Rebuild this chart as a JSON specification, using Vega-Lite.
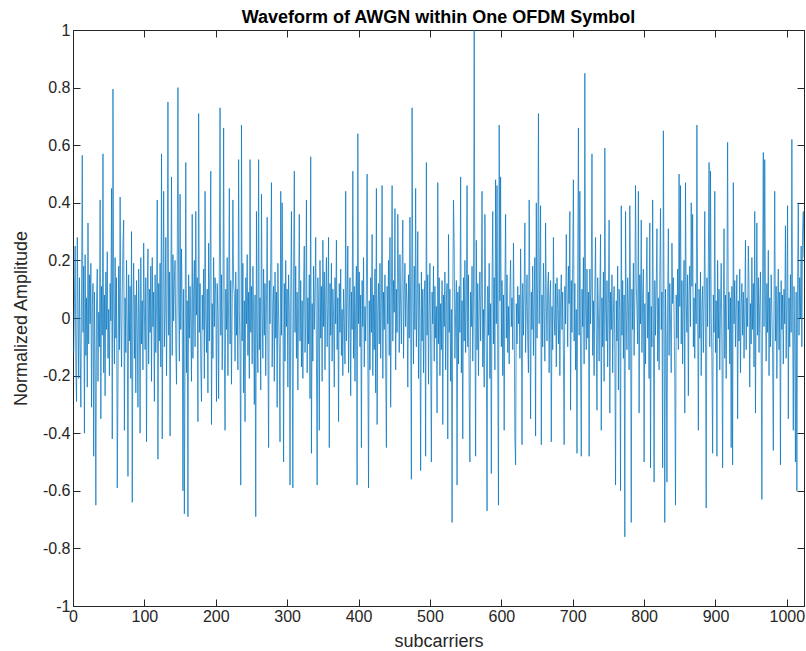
{
"$schema": "https://vega.github.io/schema/vega-lite/v6.json",
"width": 731,
"height": 576,
"autosize": {"type": "none"},
"padding": {"left": 73, "top": 30, "right": 2, "bottom": 45},
"background": "white",
"title": {"text": "Waveform of AWGN within One OFDM Symbol", "anchor": "middle", "offset": -5},
"data": {"values": [
{"i":1,"v":-0.12},{"i":2,"v":0.05},{"i":3,"v":0.25},{"i":4,"v":-0.18},{"i":5,"v":-0.29},{"i":6,"v":0.28},{"i":7,"v":0.02},{"i":8,"v":-0.21},{"i":9,"v":0.14},{"i":10,"v":-0.08},
{"i":11,"v":-0.31},{"i":12,"v":0.10},{"i":13,"v":0.565},{"i":14,"v":-0.05},{"i":15,"v":0.18},{"i":16,"v":-0.40},{"i":17,"v":0.22},{"i":18,"v":-0.13},{"i":19,"v":0.07},{"i":20,"v":-0.24},
{"i":21,"v":0.33},{"i":22,"v":-0.09},{"i":23,"v":0.15},{"i":24,"v":-0.02},{"i":25,"v":0.19},{"i":26,"v":-0.31},{"i":27,"v":0.04},{"i":28,"v":0.12},{"i":29,"v":-0.48},{"i":30,"v":0.09},
{"i":31,"v":-0.15},{"i":32,"v":-0.65},{"i":33,"v":0.06},{"i":34,"v":0.17},{"i":35,"v":-0.22},{"i":36,"v":0.02},{"i":37,"v":-0.10},{"i":38,"v":0.41},{"i":39,"v":-0.35},{"i":40,"v":0.11},
{"i":41,"v":-0.06},{"i":42,"v":0.57},{"i":43,"v":-0.19},{"i":44,"v":0.08},{"i":45,"v":-0.27},{"i":46,"v":0.16},{"i":47,"v":-0.04},{"i":48,"v":0.23},{"i":49,"v":-0.14},{"i":50,"v":0.03},
{"i":51,"v":-0.20},{"i":52,"v":0.12},{"i":53,"v":-0.01},{"i":54,"v":0.45},{"i":55,"v":-0.42},{"i":56,"v":0.795},{"i":57,"v":0.05},{"i":58,"v":-0.16},{"i":59,"v":0.21},{"i":60,"v":-0.07},
{"i":61,"v":0.14},{"i":62,"v":-0.59},{"i":63,"v":-0.24},{"i":64,"v":0.18},{"i":65,"v":-0.11},{"i":66,"v":0.42},{"i":67,"v":0.00},{"i":68,"v":-0.17},{"i":69,"v":0.09},{"i":70,"v":0.26},
{"i":71,"v":0.34},{"i":72,"v":-0.39},{"i":73,"v":0.07},{"i":74,"v":-0.12},{"i":75,"v":0.20},{"i":76,"v":-0.02},{"i":77,"v":-0.55},{"i":78,"v":0.15},{"i":79,"v":-0.08},{"i":80,"v":0.11},
{"i":81,"v":-0.21},{"i":82,"v":0.30},{"i":83,"v":-0.64},{"i":84,"v":0.04},{"i":85,"v":0.19},{"i":86,"v":-0.14},{"i":87,"v":0.08},{"i":88,"v":-0.26},{"i":89,"v":0.13},{"i":90,"v":-0.03},
{"i":91,"v":-0.31},{"i":92,"v":0.17},{"i":93,"v":0.01},{"i":94,"v":-0.40},{"i":95,"v":0.21},{"i":96,"v":-0.09},{"i":97,"v":0.06},{"i":98,"v":-0.18},{"i":99,"v":0.26},{"i":100,"v":0.02},
{"i":101,"v":-0.11},{"i":102,"v":0.14},{"i":103,"v":-0.43},{"i":104,"v":0.07},{"i":105,"v":0.24},{"i":106,"v":-0.16},{"i":107,"v":0.10},{"i":108,"v":-0.05},{"i":109,"v":0.18},{"i":110,"v":-0.22},
{"i":111,"v":0.21},{"i":112,"v":-0.03},{"i":113,"v":0.09},{"i":114,"v":-0.29},{"i":115,"v":0.15},{"i":116,"v":-0.12},{"i":117,"v":0.04},{"i":118,"v":0.41},{"i":119,"v":-0.49},{"i":120,"v":0.12},
{"i":121,"v":-0.08},{"i":122,"v":0.19},{"i":123,"v":-0.17},{"i":124,"v":0.57},{"i":125,"v":-0.42},{"i":126,"v":0.06},{"i":127,"v":0.44},{"i":128,"v":-0.10},{"i":129,"v":0.02},{"i":130,"v":0.28},
{"i":131,"v":-0.20},{"i":132,"v":0.11},{"i":133,"v":0.75},{"i":134,"v":-0.06},{"i":135,"v":0.16},{"i":136,"v":-0.41},{"i":137,"v":0.08},{"i":138,"v":0.49},{"i":139,"v":-0.13},{"i":140,"v":0.22},
{"i":141,"v":-0.01},{"i":142,"v":0.13},{"i":143,"v":0.20},{"i":144,"v":-0.09},{"i":145,"v":-0.23},{"i":146,"v":0.18},{"i":147,"v":0.80},{"i":148,"v":0.07},{"i":149,"v":-0.15},{"i":150,"v":0.43},
{"i":151,"v":-0.04},{"i":152,"v":0.24},{"i":153,"v":0.03},{"i":154,"v":-0.60},{"i":155,"v":0.10},{"i":156,"v":-0.68},{"i":157,"v":-0.12},{"i":158,"v":0.54},{"i":159,"v":-0.19},{"i":160,"v":0.06},
{"i":161,"v":-0.69},{"i":162,"v":0.15},{"i":163,"v":-0.07},{"i":164,"v":0.11},{"i":165,"v":-0.02},{"i":166,"v":-0.22},{"i":167,"v":0.36},{"i":168,"v":-0.14},{"i":169,"v":0.09},{"i":170,"v":0.20},
{"i":171,"v":-0.10},{"i":172,"v":0.37},{"i":173,"v":0.01},{"i":174,"v":0.14},{"i":175,"v":-0.36},{"i":176,"v":0.71},{"i":177,"v":-0.05},{"i":178,"v":0.12},{"i":179,"v":-0.17},{"i":180,"v":-0.29},
{"i":181,"v":0.08},{"i":182,"v":-0.04},{"i":183,"v":0.17},{"i":184,"v":-0.21},{"i":185,"v":0.44},{"i":186,"v":0.00},{"i":187,"v":-0.12},{"i":188,"v":0.10},{"i":189,"v":-0.26},{"i":190,"v":0.26},
{"i":191,"v":-0.08},{"i":192,"v":0.16},{"i":193,"v":0.51},{"i":194,"v":-0.37},{"i":195,"v":0.05},{"i":196,"v":-0.14},{"i":197,"v":0.21},{"i":198,"v":-0.03},{"i":199,"v":0.14},{"i":200,"v":0.09},
{"i":201,"v":-0.29},{"i":202,"v":0.12},{"i":203,"v":0.02},{"i":204,"v":-0.28},{"i":205,"v":0.18},{"i":206,"v":0.73},{"i":207,"v":-0.06},{"i":208,"v":0.15},{"i":209,"v":-0.18},{"i":210,"v":0.04},
{"i":211,"v":0.66},{"i":212,"v":-0.12},{"i":213,"v":-0.39},{"i":214,"v":0.10},{"i":215,"v":-0.04},{"i":216,"v":0.21},{"i":217,"v":-0.20},{"i":218,"v":0.07},{"i":219,"v":0.45},{"i":220,"v":-0.09},
{"i":221,"v":0.13},{"i":222,"v":-0.23},{"i":223,"v":0.05},{"i":224,"v":0.41},{"i":225,"v":0.12},{"i":226,"v":0.08},{"i":227,"v":-0.15},{"i":228,"v":0.16},{"i":229,"v":-0.06},{"i":230,"v":0.10},
{"i":231,"v":-0.18},{"i":232,"v":0.55},{"i":233,"v":0.03},{"i":234,"v":-0.11},{"i":235,"v":-0.58},{"i":236,"v":0.67},{"i":237,"v":-0.08},{"i":238,"v":0.19},{"i":239,"v":-0.26},{"i":240,"v":0.06},
{"i":241,"v":-0.36},{"i":242,"v":0.14},{"i":243,"v":-0.02},{"i":244,"v":0.22},{"i":245,"v":-0.13},{"i":246,"v":0.09},{"i":247,"v":-0.21},{"i":248,"v":0.55},{"i":249,"v":-0.05},{"i":250,"v":0.11},
{"i":251,"v":-0.16},{"i":252,"v":0.18},{"i":253,"v":0.01},{"i":254,"v":-0.30},{"i":255,"v":0.08},{"i":256,"v":-0.69},{"i":257,"v":0.37},{"i":258,"v":-0.04},{"i":259,"v":-0.19},{"i":260,"v":0.55},
{"i":261,"v":-0.11},{"i":262,"v":0.07},{"i":263,"v":-0.25},{"i":264,"v":0.43},{"i":265,"v":0.02},{"i":266,"v":-0.14},{"i":267,"v":0.17},{"i":268,"v":-0.06},{"i":269,"v":0.12},{"i":270,"v":-0.20},
{"i":271,"v":0.05},{"i":272,"v":0.35},{"i":273,"v":-0.09},{"i":274,"v":-0.45},{"i":275,"v":0.13},{"i":276,"v":-0.02},{"i":277,"v":0.20},{"i":278,"v":0.47},{"i":279,"v":-0.17},{"i":280,"v":0.04},
{"i":281,"v":0.11},{"i":282,"v":-0.22},{"i":283,"v":0.16},{"i":284,"v":-0.07},{"i":285,"v":0.09},{"i":286,"v":-0.31},{"i":287,"v":0.19},{"i":288,"v":0.01},{"i":289,"v":-0.12},{"i":290,"v":-0.43},
{"i":291,"v":0.44},{"i":292,"v":-0.06},{"i":293,"v":0.40},{"i":294,"v":0.08},{"i":295,"v":-0.50},{"i":296,"v":0.12},{"i":297,"v":-0.15},{"i":298,"v":0.20},{"i":299,"v":-0.03},{"i":300,"v":0.10},
{"i":301,"v":-0.24},{"i":302,"v":0.15},{"i":303,"v":0.03},{"i":304,"v":-0.58},{"i":305,"v":0.07},{"i":306,"v":0.37},{"i":307,"v":-0.10},{"i":308,"v":-0.59},{"i":309,"v":0.14},{"i":310,"v":0.51},
{"i":311,"v":-0.05},{"i":312,"v":0.18},{"i":313,"v":-0.14},{"i":314,"v":0.09},{"i":315,"v":-0.25},{"i":316,"v":0.04},{"i":317,"v":0.36},{"i":318,"v":-0.08},{"i":319,"v":0.13},{"i":320,"v":-0.17},
{"i":321,"v":0.06},{"i":322,"v":-0.21},{"i":323,"v":0.11},{"i":324,"v":0.25},{"i":325,"v":-0.12},{"i":326,"v":-0.02},{"i":327,"v":0.41},{"i":328,"v":-0.19},{"i":329,"v":0.07},{"i":330,"v":-0.09},
{"i":331,"v":0.15},{"i":332,"v":-0.28},{"i":333,"v":0.56},{"i":334,"v":-0.47},{"i":335,"v":0.05},{"i":336,"v":-0.15},{"i":337,"v":0.18},{"i":338,"v":-0.04},{"i":339,"v":0.09},{"i":340,"v":0.28},
{"i":341,"v":-0.13},{"i":342,"v":-0.58},{"i":343,"v":0.14},{"i":344,"v":0.02},{"i":345,"v":-0.39},{"i":346,"v":0.20},{"i":347,"v":-0.07},{"i":348,"v":0.11},{"i":349,"v":-0.22},{"i":350,"v":0.27},
{"i":351,"v":-0.03},{"i":352,"v":0.16},{"i":353,"v":-0.18},{"i":354,"v":0.08},{"i":355,"v":0.21},{"i":356,"v":-0.10},{"i":357,"v":0.04},{"i":358,"v":0.28},{"i":359,"v":-0.45},{"i":360,"v":0.12},
{"i":361,"v":-0.06},{"i":362,"v":0.19},{"i":363,"v":-0.15},{"i":364,"v":0.10},{"i":365,"v":0.01},{"i":366,"v":-0.24},{"i":367,"v":0.14},{"i":368,"v":-0.02},{"i":369,"v":0.27},{"i":370,"v":-0.11},
{"i":371,"v":0.07},{"i":372,"v":-0.36},{"i":373,"v":0.12},{"i":374,"v":-0.05},{"i":375,"v":0.17},{"i":376,"v":-0.13},{"i":377,"v":0.03},{"i":378,"v":-0.20},{"i":379,"v":0.10},{"i":380,"v":-0.01},
{"i":381,"v":-0.16},{"i":382,"v":0.44},{"i":383,"v":-0.08},{"i":384,"v":0.06},{"i":385,"v":0.25},{"i":386,"v":-0.19},{"i":387,"v":0.02},{"i":388,"v":0.14},{"i":389,"v":-0.27},{"i":390,"v":0.09},
{"i":391,"v":-0.04},{"i":392,"v":0.51},{"i":393,"v":-0.14},{"i":394,"v":0.11},{"i":395,"v":-0.22},{"i":396,"v":0.05},{"i":397,"v":0.18},{"i":398,"v":-0.58},{"i":399,"v":0.64},{"i":400,"v":-0.02},
{"i":401,"v":0.16},{"i":402,"v":-0.10},{"i":403,"v":0.08},{"i":404,"v":-0.45},{"i":405,"v":0.13},{"i":406,"v":-0.03},{"i":407,"v":0.21},{"i":408,"v":-0.17},{"i":409,"v":0.04},{"i":410,"v":-0.08},
{"i":411,"v":0.10},{"i":412,"v":0.50},{"i":413,"v":-0.12},{"i":414,"v":-0.59},{"i":415,"v":0.06},{"i":416,"v":-0.18},{"i":417,"v":0.14},{"i":418,"v":-0.05},{"i":419,"v":0.29},{"i":420,"v":-0.20},
{"i":421,"v":0.08},{"i":422,"v":-0.11},{"i":423,"v":0.17},{"i":424,"v":-0.26},{"i":425,"v":0.45},{"i":426,"v":-0.37},{"i":427,"v":0.03},{"i":428,"v":0.12},{"i":429,"v":-0.09},{"i":430,"v":0.19},
{"i":431,"v":-0.14},{"i":432,"v":0.05},{"i":433,"v":0.46},{"i":434,"v":-0.21},{"i":435,"v":0.09},{"i":436,"v":-0.04},{"i":437,"v":0.15},{"i":438,"v":-0.16},{"i":439,"v":-0.45},{"i":440,"v":0.11},
{"i":441,"v":-0.02},{"i":442,"v":0.20},{"i":443,"v":-0.13},{"i":444,"v":0.28},{"i":445,"v":-0.31},{"i":446,"v":0.07},{"i":447,"v":0.46},{"i":448,"v":-0.08},{"i":449,"v":0.13},{"i":450,"v":0.02},
{"i":451,"v":0.38},{"i":452,"v":-0.18},{"i":453,"v":0.10},{"i":454,"v":-0.05},{"i":455,"v":0.36},{"i":456,"v":0.14},{"i":457,"v":-0.12},{"i":458,"v":0.22},{"i":459,"v":0.04},{"i":460,"v":-0.09},
{"i":461,"v":0.17},{"i":462,"v":0.34},{"i":463,"v":-0.14},{"i":464,"v":0.08},{"i":465,"v":0.19},{"i":466,"v":-0.03},{"i":467,"v":0.12},{"i":468,"v":0.05},{"i":469,"v":-0.24},{"i":470,"v":0.15},
{"i":471,"v":-0.07},{"i":472,"v":0.35},{"i":473,"v":0.01},{"i":474,"v":-0.56},{"i":475,"v":0.73},{"i":476,"v":0.09},{"i":477,"v":-0.16},{"i":478,"v":0.18},{"i":479,"v":-0.04},{"i":480,"v":0.45},
{"i":481,"v":-0.10},{"i":482,"v":0.06},{"i":483,"v":0.30},{"i":484,"v":-0.21},{"i":485,"v":0.12},{"i":486,"v":-0.01},{"i":487,"v":-0.53},{"i":488,"v":0.16},{"i":489,"v":-0.08},{"i":490,"v":0.10},
{"i":491,"v":-0.19},{"i":492,"v":0.07},{"i":493,"v":0.13},{"i":494,"v":-0.48},{"i":495,"v":0.54},{"i":496,"v":-0.06},{"i":497,"v":0.15},{"i":498,"v":-0.23},{"i":499,"v":0.03},{"i":500,"v":0.19},
{"i":501,"v":-0.12},{"i":502,"v":-0.50},{"i":503,"v":0.09},{"i":504,"v":-0.02},{"i":505,"v":0.18},{"i":506,"v":-0.15},{"i":507,"v":0.11},{"i":508,"v":-0.07},{"i":509,"v":0.04},{"i":510,"v":-0.33},
{"i":511,"v":0.47},{"i":512,"v":-0.09},{"i":513,"v":0.14},{"i":514,"v":-0.20},{"i":515,"v":0.05},{"i":516,"v":-0.11},{"i":517,"v":0.13},{"i":518,"v":-0.37},{"i":519,"v":0.08},{"i":520,"v":-0.03},
{"i":521,"v":0.16},{"i":522,"v":-0.18},{"i":523,"v":0.06},{"i":524,"v":0.12},{"i":525,"v":-0.42},{"i":526,"v":0.29},{"i":527,"v":-0.05},{"i":528,"v":0.10},{"i":529,"v":-0.22},{"i":530,"v":0.03},
{"i":531,"v":-0.71},{"i":532,"v":0.07},{"i":533,"v":0.41},{"i":534,"v":0.25},{"i":535,"v":-0.14},{"i":536,"v":0.02},{"i":537,"v":0.13},{"i":538,"v":-0.58},{"i":539,"v":0.09},{"i":540,"v":-0.16},
{"i":541,"v":0.11},{"i":542,"v":-0.05},{"i":543,"v":0.49},{"i":544,"v":-0.19},{"i":545,"v":0.06},{"i":546,"v":-0.42},{"i":547,"v":0.14},{"i":548,"v":-0.08},{"i":549,"v":0.20},{"i":550,"v":-0.12},
{"i":551,"v":0.04},{"i":552,"v":0.46},{"i":553,"v":-0.10},{"i":554,"v":0.15},{"i":555,"v":-0.26},{"i":556,"v":-0.50},{"i":557,"v":0.09},{"i":558,"v":-0.03},{"i":559,"v":0.18},{"i":560,"v":-0.15},
{"i":561,"v":0.07},{"i":562,"v":1.0},{"i":563,"v":0.02},{"i":564,"v":-0.48},{"i":565,"v":0.27},{"i":566,"v":-0.11},{"i":567,"v":0.12},{"i":568,"v":-0.20},{"i":569,"v":0.05},{"i":570,"v":0.16},
{"i":571,"v":-0.08},{"i":572,"v":0.10},{"i":573,"v":0.44},{"i":574,"v":-0.17},{"i":575,"v":0.03},{"i":576,"v":-0.24},{"i":577,"v":0.36},{"i":578,"v":0.08},{"i":579,"v":-0.13},{"i":580,"v":-0.67},
{"i":581,"v":0.11},{"i":582,"v":-0.06},{"i":583,"v":0.19},{"i":584,"v":-0.21},{"i":585,"v":0.05},{"i":586,"v":-0.54},{"i":587,"v":0.12},{"i":588,"v":0.37},{"i":589,"v":-0.09},{"i":590,"v":0.14},
{"i":591,"v":-0.18},{"i":592,"v":0.48},{"i":593,"v":-0.02},{"i":594,"v":0.46},{"i":595,"v":-0.15},{"i":596,"v":-0.65},{"i":597,"v":0.67},{"i":598,"v":0.06},{"i":599,"v":0.49},{"i":600,"v":-0.10},
{"i":601,"v":0.13},{"i":602,"v":-0.20},{"i":603,"v":0.08},{"i":604,"v":-0.39},{"i":605,"v":0.10},{"i":606,"v":0.36},{"i":607,"v":-0.07},{"i":608,"v":0.15},{"i":609,"v":-0.12},{"i":610,"v":0.04},
{"i":611,"v":-0.16},{"i":612,"v":0.09},{"i":613,"v":0.20},{"i":614,"v":-0.03},{"i":615,"v":0.07},{"i":616,"v":-0.11},{"i":617,"v":0.26},{"i":618,"v":0.02},{"i":619,"v":-0.41},{"i":620,"v":-0.51},
{"i":621,"v":0.05},{"i":622,"v":-0.09},{"i":623,"v":0.11},{"i":624,"v":-0.02},{"i":625,"v":0.08},{"i":626,"v":-0.14},{"i":627,"v":0.24},{"i":628,"v":0.03},{"i":629,"v":-0.44},{"i":630,"v":0.12},
{"i":631,"v":-0.06},{"i":632,"v":0.10},{"i":633,"v":0.33},{"i":634,"v":-0.12},{"i":635,"v":0.04},{"i":636,"v":0.15},{"i":637,"v":-0.08},{"i":638,"v":-0.19},{"i":639,"v":0.41},{"i":640,"v":0.06},
{"i":641,"v":-0.35},{"i":642,"v":0.09},{"i":643,"v":-0.04},{"i":644,"v":0.18},{"i":645,"v":-0.13},{"i":646,"v":0.07},{"i":647,"v":0.21},{"i":648,"v":-0.41},{"i":649,"v":0.40},{"i":650,"v":-0.07},
{"i":651,"v":0.12},{"i":652,"v":0.71},{"i":653,"v":-0.02},{"i":654,"v":0.16},{"i":655,"v":0.39},{"i":656,"v":-0.44},{"i":657,"v":0.08},{"i":658,"v":-0.10},{"i":659,"v":0.19},{"i":660,"v":0.02},
{"i":661,"v":-0.15},{"i":662,"v":0.33},{"i":663,"v":0.05},{"i":664,"v":-0.08},{"i":665,"v":0.11},{"i":666,"v":0.16},{"i":667,"v":-0.19},{"i":668,"v":0.07},{"i":669,"v":0.13},{"i":670,"v":-0.43},
{"i":671,"v":0.04},{"i":672,"v":-0.11},{"i":673,"v":0.28},{"i":674,"v":0.01},{"i":675,"v":-0.06},{"i":676,"v":0.12},{"i":677,"v":-0.17},{"i":678,"v":0.14},{"i":679,"v":0.03},{"i":680,"v":-0.09},
{"i":681,"v":0.10},{"i":682,"v":-0.20},{"i":683,"v":0.06},{"i":684,"v":0.15},{"i":685,"v":-0.04},{"i":686,"v":0.09},{"i":687,"v":-0.13},{"i":688,"v":-0.44},{"i":689,"v":0.11},{"i":690,"v":-0.02},
{"i":691,"v":0.29},{"i":692,"v":0.07},{"i":693,"v":-0.10},{"i":694,"v":0.18},{"i":695,"v":0.05},{"i":696,"v":0.37},{"i":697,"v":-0.32},{"i":698,"v":0.13},{"i":699,"v":-0.05},{"i":700,"v":0.20},
{"i":701,"v":0.48},{"i":702,"v":-0.08},{"i":703,"v":0.12},{"i":704,"v":-0.18},{"i":705,"v":0.03},{"i":706,"v":-0.47},{"i":707,"v":0.15},{"i":708,"v":0.66},{"i":709,"v":-0.06},{"i":710,"v":0.44},
{"i":711,"v":-0.14},{"i":712,"v":-0.48},{"i":713,"v":0.10},{"i":714,"v":-0.03},{"i":715,"v":0.21},{"i":716,"v":-0.16},{"i":717,"v":0.85},{"i":718,"v":0.04},{"i":719,"v":-0.11},{"i":720,"v":0.17},
{"i":721,"v":-0.07},{"i":722,"v":0.09},{"i":723,"v":-0.48},{"i":724,"v":0.17},{"i":725,"v":-0.02},{"i":726,"v":0.12},{"i":727,"v":0.57},{"i":728,"v":-0.13},{"i":729,"v":0.06},{"i":730,"v":-0.20},
{"i":731,"v":0.10},{"i":732,"v":0.28},{"i":733,"v":-0.05},{"i":734,"v":-0.32},{"i":735,"v":0.14},{"i":736,"v":0.02},{"i":737,"v":-0.15},{"i":738,"v":0.08},{"i":739,"v":0.29},{"i":740,"v":-0.39},
{"i":741,"v":0.07},{"i":742,"v":-0.10},{"i":743,"v":0.16},{"i":744,"v":-0.22},{"i":745,"v":0.59},{"i":746,"v":0.04},{"i":747,"v":-0.08},{"i":748,"v":0.13},{"i":749,"v":-0.17},{"i":750,"v":0.05},
{"i":751,"v":0.34},{"i":752,"v":-0.33},{"i":753,"v":0.09},{"i":754,"v":-0.04},{"i":755,"v":0.15},{"i":756,"v":-0.19},{"i":757,"v":0.02},{"i":758,"v":0.11},{"i":759,"v":-0.12},{"i":760,"v":-0.58},
{"i":761,"v":0.06},{"i":762,"v":-0.08},{"i":763,"v":0.18},{"i":764,"v":-0.25},{"i":765,"v":0.10},{"i":766,"v":0.03},{"i":767,"v":-0.60},{"i":768,"v":0.39},{"i":769,"v":-0.06},{"i":770,"v":0.13},
{"i":771,"v":-0.14},{"i":772,"v":0.08},{"i":773,"v":-0.76},{"i":774,"v":0.37},{"i":775,"v":0.01},{"i":776,"v":-0.11},{"i":777,"v":0.14},{"i":778,"v":0.05},{"i":779,"v":-0.18},{"i":780,"v":0.39},
{"i":781,"v":0.07},{"i":782,"v":-0.71},{"i":783,"v":0.10},{"i":784,"v":-0.04},{"i":785,"v":0.19},{"i":786,"v":-0.13},{"i":787,"v":0.06},{"i":788,"v":0.46},{"i":789,"v":0.12},{"i":790,"v":0.03},
{"i":791,"v":-0.09},{"i":792,"v":0.44},{"i":793,"v":-0.33},{"i":794,"v":0.15},{"i":795,"v":-0.02},{"i":796,"v":0.34},{"i":797,"v":-0.12},{"i":798,"v":0.08},{"i":799,"v":0.17},{"i":800,"v":-0.50},
{"i":801,"v":0.05},{"i":802,"v":-0.16},{"i":803,"v":0.11},{"i":804,"v":0.28},{"i":805,"v":-0.07},{"i":806,"v":0.09},{"i":807,"v":-0.21},{"i":808,"v":0.33},{"i":809,"v":-0.52},{"i":810,"v":0.04},
{"i":811,"v":-0.10},{"i":812,"v":0.41},{"i":813,"v":0.02},{"i":814,"v":-0.57},{"i":815,"v":0.13},{"i":816,"v":-0.06},{"i":817,"v":0.10},{"i":818,"v":0.31},{"i":819,"v":-0.15},{"i":820,"v":0.07},
{"i":821,"v":-0.18},{"i":822,"v":0.14},{"i":823,"v":0.38},{"i":824,"v":-0.04},{"i":825,"v":0.09},{"i":826,"v":-0.52},{"i":827,"v":0.65},{"i":828,"v":0.03},{"i":829,"v":-0.71},{"i":830,"v":0.10},
{"i":831,"v":-0.08},{"i":832,"v":-0.57},{"i":833,"v":0.06},{"i":834,"v":0.31},{"i":835,"v":-0.13},{"i":836,"v":0.12},{"i":837,"v":-0.02},{"i":838,"v":-0.19},{"i":839,"v":0.26},{"i":840,"v":0.05},
{"i":841,"v":0.14},{"i":842,"v":0.02},{"i":843,"v":-0.22},{"i":844,"v":-0.65},{"i":845,"v":0.08},{"i":846,"v":-0.07},{"i":847,"v":0.17},{"i":848,"v":-0.11},{"i":849,"v":0.50},{"i":850,"v":0.04},
{"i":851,"v":0.46},{"i":852,"v":-0.09},{"i":853,"v":0.13},{"i":854,"v":-0.16},{"i":855,"v":0.07},{"i":856,"v":0.20},{"i":857,"v":-0.33},{"i":858,"v":0.47},{"i":859,"v":0.06},{"i":860,"v":-0.05},
{"i":861,"v":0.15},{"i":862,"v":-0.27},{"i":863,"v":0.09},{"i":864,"v":0.18},{"i":865,"v":-0.03},{"i":866,"v":0.40},{"i":867,"v":0.11},{"i":868,"v":0.36},{"i":869,"v":-0.10},{"i":870,"v":0.07},
{"i":871,"v":-0.14},{"i":872,"v":0.12},{"i":873,"v":-0.02},{"i":874,"v":0.67},{"i":875,"v":0.05},{"i":876,"v":-0.39},{"i":877,"v":0.10},{"i":878,"v":-0.07},{"i":879,"v":0.16},{"i":880,"v":-0.20},
{"i":881,"v":0.03},{"i":882,"v":0.11},{"i":883,"v":-0.12},{"i":884,"v":0.06},{"i":885,"v":0.37},{"i":886,"v":-0.08},{"i":887,"v":-0.66},{"i":888,"v":0.14},{"i":889,"v":-0.03},{"i":890,"v":0.19},
{"i":891,"v":0.54},{"i":892,"v":-0.10},{"i":893,"v":0.51},{"i":894,"v":0.02},{"i":895,"v":-0.15},{"i":896,"v":-0.47},{"i":897,"v":0.08},{"i":898,"v":-0.05},{"i":899,"v":0.44},{"i":900,"v":-0.12},
{"i":901,"v":0.06},{"i":902,"v":-0.48},{"i":903,"v":0.20},{"i":904,"v":-0.07},{"i":905,"v":0.10},{"i":906,"v":-0.18},{"i":907,"v":0.03},{"i":908,"v":0.19},{"i":909,"v":-0.09},{"i":910,"v":-0.52},
{"i":911,"v":0.05},{"i":912,"v":0.31},{"i":913,"v":-0.14},{"i":914,"v":0.08},{"i":915,"v":-0.21},{"i":916,"v":0.12},{"i":917,"v":0.61},{"i":918,"v":-0.04},{"i":919,"v":0.09},{"i":920,"v":-0.16},
{"i":921,"v":0.07},{"i":922,"v":-0.45},{"i":923,"v":0.11},{"i":924,"v":-0.51},{"i":925,"v":0.47},{"i":926,"v":-0.02},{"i":927,"v":0.13},{"i":928,"v":-0.10},{"i":929,"v":0.04},{"i":930,"v":0.15},
{"i":931,"v":-0.35},{"i":932,"v":0.06},{"i":933,"v":-0.08},{"i":934,"v":0.17},{"i":935,"v":-0.19},{"i":936,"v":0.04},{"i":937,"v":0.12},{"i":938,"v":-0.06},{"i":939,"v":0.09},{"i":940,"v":-0.14},
{"i":941,"v":0.02},{"i":942,"v":0.27},{"i":943,"v":-0.11},{"i":944,"v":0.07},{"i":945,"v":-0.03},{"i":946,"v":0.25},{"i":947,"v":0.10},{"i":948,"v":-0.24},{"i":949,"v":0.05},{"i":950,"v":-0.09},
{"i":951,"v":0.21},{"i":952,"v":-0.04},{"i":953,"v":0.12},{"i":954,"v":-0.17},{"i":955,"v":0.37},{"i":956,"v":-0.33},{"i":957,"v":0.08},{"i":958,"v":0.33},{"i":959,"v":-0.06},{"i":960,"v":0.14},
{"i":961,"v":-0.12},{"i":962,"v":0.05},{"i":963,"v":0.16},{"i":964,"v":-0.09},{"i":965,"v":-0.63},{"i":966,"v":0.10},{"i":967,"v":0.575},{"i":968,"v":-0.03},{"i":969,"v":0.55},{"i":970,"v":0.08},
{"i":971,"v":-0.15},{"i":972,"v":0.12},{"i":973,"v":-0.05},{"i":974,"v":0.235},{"i":975,"v":-0.20},{"i":976,"v":0.07},{"i":977,"v":-0.10},{"i":978,"v":0.15},{"i":979,"v":0.02},{"i":980,"v":-0.13},
{"i":981,"v":-0.46},{"i":982,"v":0.06},{"i":983,"v":0.44},{"i":984,"v":-0.08},{"i":985,"v":0.11},{"i":986,"v":-0.21},{"i":987,"v":0.04},{"i":988,"v":0.17},{"i":989,"v":-0.11},{"i":990,"v":0.09},
{"i":991,"v":-0.51},{"i":992,"v":0.13},{"i":993,"v":-0.04},{"i":994,"v":0.08},{"i":995,"v":-0.16},{"i":996,"v":0.10},{"i":997,"v":-0.02},{"i":998,"v":0.32},{"i":999,"v":-0.14},{"i":1000,"v":0.06},
{"i":1001,"v":0.39},{"i":1002,"v":-0.35},{"i":1003,"v":0.07},{"i":1004,"v":-0.10},{"i":1005,"v":0.15},{"i":1006,"v":-0.05},{"i":1007,"v":0.62},{"i":1008,"v":0.03},{"i":1009,"v":-0.39},{"i":1010,"v":0.11},
{"i":1011,"v":-0.08},{"i":1012,"v":-0.50},{"i":1013,"v":0.09},{"i":1014,"v":-0.60},{"i":1015,"v":0.12},{"i":1016,"v":0.40},{"i":1017,"v":-0.06},{"i":1018,"v":0.14},{"i":1019,"v":0.00},{"i":1020,"v":0.25},
{"i":1021,"v":-0.10},{"i":1022,"v":0.30},{"i":1023,"v":0.37},{"i":1024,"v":0.21}
]},
"layer": [
{
"mark": {"type": "line", "color": "#0072BD", "strokeWidth": 0.7, "clip": true},
"encoding": {
"x": {"field": "i", "type": "quantitative", "scale": {"domain": [0, 1024], "nice": false, "zero": false},
"axis": {"orient": "bottom", "title": "subcarriers", "values": [0,100,200,300,400,500,600,700,800,900,1000], "labelExpr": "'' + datum.value", "tickSize": -7, "labelPadding": 9, "titlePadding": 8, "labelFlush": false, "labelOverlap": false, "labelBound": false}},
"y": {"field": "v", "type": "quantitative", "scale": {"domain": [-1, 1], "nice": false, "zero": false},
"axis": {"orient": "left", "title": "Normalized Amplitude", "values": [-1,-0.8,-0.6,-0.4,-0.2,0,0.2,0.4,0.6,0.8,1], "labelExpr": "'' + datum.value", "tickSize": -7, "labelPadding": 10, "titlePadding": 12, "labelFlush": false, "labelOverlap": false, "labelBound": false}}
}
},
{
"mark": {"type": "line", "opacity": 0},
"encoding": {
"x": {"field": "i", "type": "quantitative",
"axis": {"orient": "top", "title": null, "labels": false, "values": [0,100,200,300,400,500,600,700,800,900,1000], "tickSize": -7}},
"y": {"field": "v", "type": "quantitative",
"axis": {"orient": "right", "title": null, "labels": false, "values": [-1,-0.8,-0.6,-0.4,-0.2,0,0.2,0.4,0.6,0.8,1], "tickSize": -7}}
}
}
],
"resolve": {"axis": {"x": "independent", "y": "independent"}},
"config": {
"view": {"stroke": "#262626", "strokeWidth": 1},
"axis": {"labelFont": "Liberation Sans", "labelFontSize": 16, "labelColor": "#262626", "titleFont": "Liberation Sans", "titleFontSize": 18, "titleFontWeight": "normal", "titleColor": "#262626", "domainColor": "#262626", "tickColor": "#262626", "grid": false},
"title": {"font": "Liberation Sans", "fontSize": 18, "fontWeight": "bold", "color": "#000000", "offset": -5}
}
}
